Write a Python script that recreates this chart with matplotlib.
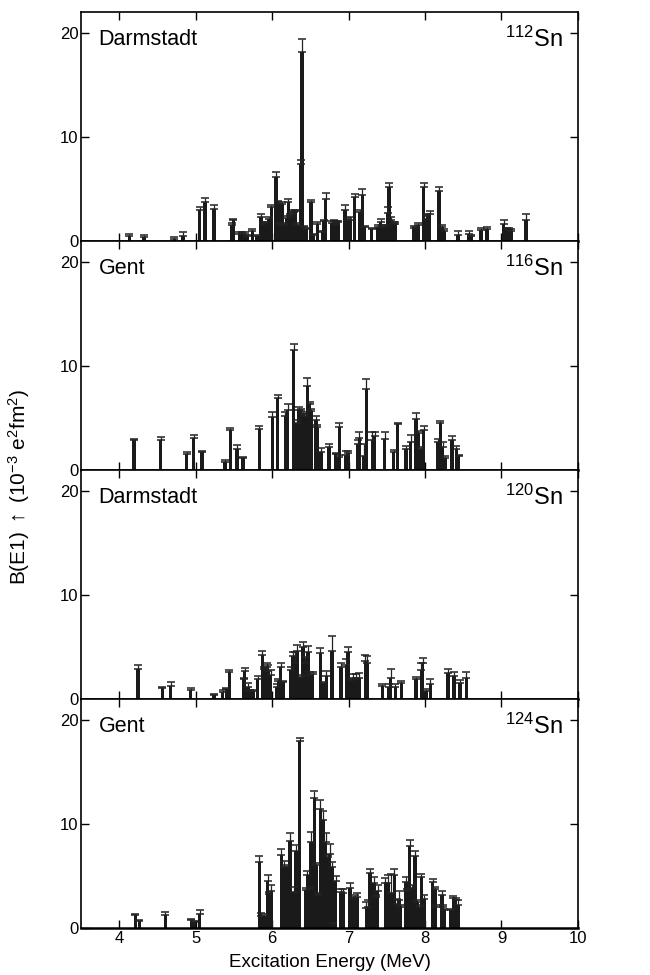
import matplotlib
matplotlib.use("Agg")
import matplotlib.pyplot as plt
import numpy as np

plt.rcParams['font.family'] = ['Liberation Sans', 'DejaVu Sans']
plt.rcParams['mathtext.fontset'] = 'custom'
plt.rcParams['mathtext.rm'] = 'Liberation Sans'
plt.rcParams['mathtext.it'] = 'Liberation Sans:italic'

# Sn-112, Darmstadt: energy (MeV), B(E1) (10^-3 e^2 fm^2), upper error
e112 = [4.13, 4.32, 4.72, 4.83, 5.05, 5.12, 5.24, 5.47, 5.49, 5.57, 5.61, 5.64, 5.67,
        5.74, 5.80, 5.85, 5.88, 5.91, 5.96, 5.99, 6.05, 6.08, 6.10, 6.13, 6.16, 6.19,
        6.21, 6.23, 6.26, 6.28, 6.30, 6.33, 6.37, 6.39, 6.41, 6.44, 6.51, 6.54, 6.59,
        6.66, 6.68, 6.70, 6.78, 6.81, 6.83, 6.86, 6.95, 6.99, 7.02, 7.08, 7.15, 7.18,
        7.21, 7.30, 7.38, 7.42, 7.44, 7.48, 7.51, 7.53, 7.56, 7.59, 7.61, 7.85, 7.88,
        7.91, 7.98, 8.01, 8.03, 8.06, 8.18, 8.22, 8.25, 8.43, 8.57, 8.60, 8.73, 8.81,
        9.03, 9.07, 9.10, 9.13, 9.32]
b112 = [0.5, 0.4, 0.2, 0.5, 3.0, 3.7, 3.1, 1.5, 2.0, 0.7, 0.7, 0.7, 0.5,
        0.9, 0.5, 2.3, 1.6, 1.7, 2.1, 3.2, 6.1, 3.6, 1.5, 3.5, 1.5, 2.2,
        3.7, 2.4, 2.6, 2.8, 2.9, 1.5, 7.4, 18.1, 1.3, 1.1, 3.7, 0.6, 1.6,
        0.8, 1.9, 4.0, 1.7, 1.9, 1.6, 1.8, 3.0, 2.0, 2.0, 4.2, 2.8, 4.4,
        1.3, 1.1, 1.3, 1.8, 1.3, 1.4, 2.7, 5.2, 2.0, 1.6, 1.6, 1.2, 1.2,
        1.5, 5.2, 2.1, 2.4, 2.6, 4.8, 1.3, 0.9, 0.6, 0.7, 0.5, 1.0, 1.1,
        1.6, 1.1, 1.0, 0.9, 2.0]
d112 = [0.2, 0.2, 0.2, 0.3, 0.2, 0.4, 0.3, 0.2, 0.1, 0.1, 0.1, 0.1, 0.1,
        0.2, 0.1, 0.3, 0.2, 0.1, 0.2, 0.2, 0.5, 0.2, 0.2, 0.2, 0.2, 0.2,
        0.3, 0.2, 0.2, 0.2, 0.1, 0.2, 0.4, 1.3, 0.1, 0.1, 0.2, 0.1, 0.2,
        0.1, 0.1, 0.6, 0.2, 0.1, 0.3, 0.1, 0.4, 0.2, 0.3, 0.3, 0.2, 0.6,
        0.1, 0.1, 0.2, 0.3, 0.2, 0.1, 0.5, 0.4, 0.3, 0.2, 0.2, 0.2, 0.1,
        0.2, 0.4, 0.4, 0.2, 0.3, 0.4, 0.2, 0.2, 0.3, 0.2, 0.1, 0.2, 0.2,
        0.4, 0.1, 0.2, 0.2, 0.6]

# Sn-116, Gent
e116 = [4.19, 4.54, 4.88, 4.97, 5.08, 5.38, 5.45, 5.54, 5.62, 5.83, 6.00, 6.07, 6.17,
        6.20, 6.28, 6.32, 6.35, 6.37, 6.40, 6.42, 6.46, 6.49, 6.51, 6.57, 6.59, 6.64,
        6.74, 6.83, 6.87, 6.88, 6.96, 6.99, 7.12, 7.14, 7.20, 7.23, 7.31, 7.34, 7.47,
        7.59, 7.64, 7.75, 7.81, 7.88, 7.91, 7.95, 7.98, 8.17, 8.20, 8.23, 8.26, 8.35,
        8.41, 8.44]
b116 = [2.9, 2.9, 1.5, 3.1, 1.7, 0.8, 3.8, 2.0, 1.1, 3.9, 5.1, 6.9, 5.2,
        5.8, 11.5, 4.5, 5.8, 5.7, 5.4, 5.2, 8.1, 6.3, 5.7, 4.8, 4.1, 1.7,
        2.2, 1.5, 1.2, 4.1, 1.4, 1.6, 2.5, 3.1, 1.3, 7.8, 2.9, 3.3, 3.0,
        1.7, 4.4, 2.0, 2.7, 4.9, 3.5, 2.0, 3.8, 2.7, 4.5, 2.2, 1.1, 2.9,
        2.0, 1.3]
d116 = [0.1, 0.3, 0.2, 0.3, 0.1, 0.2, 0.2, 0.4, 0.1, 0.3, 0.5, 0.3, 0.4,
        0.5, 0.6, 0.3, 0.2, 0.2, 0.2, 0.2, 0.7, 0.2, 0.2, 0.4, 0.2, 0.4,
        0.3, 0.1, 0.2, 0.4, 0.4, 0.2, 0.4, 0.5, 1.2, 0.9, 0.7, 0.3, 0.6,
        0.2, 0.1, 0.3, 0.7, 0.6, 0.2, 0.2, 0.4, 0.3, 0.2, 0.5, 0.2, 0.4,
        0.3, 0.1]

# Sn-120, Darmstadt
e120 = [4.24, 4.56, 4.67, 4.93, 5.24, 5.35, 5.40, 5.44, 5.63, 5.64, 5.68, 5.71, 5.75,
        5.81, 5.87, 5.89, 5.93, 5.95, 5.98, 6.06, 6.08, 6.11, 6.14, 6.24, 6.27, 6.30,
        6.33, 6.37, 6.40, 6.43, 6.47, 6.50, 6.53, 6.63, 6.67, 6.71, 6.78, 6.90, 6.97,
        6.99, 7.03, 7.06, 7.10, 7.14, 7.22, 7.24, 7.44, 7.53, 7.55, 7.61, 7.69, 7.88,
        7.95, 7.97, 8.01, 8.07, 8.30, 8.38, 8.46, 8.54]
b120 = [2.9, 1.1, 1.3, 0.9, 0.4, 0.7, 1.0, 2.6, 1.9, 2.7, 1.2, 0.8, 0.8,
        1.9, 4.2, 2.9, 3.1, 2.7, 2.3, 1.2, 1.7, 3.1, 1.6, 2.8, 4.1, 3.5,
        4.6, 2.1, 5.0, 3.5, 4.5, 2.3, 2.4, 4.4, 1.5, 2.2, 4.6, 3.1, 3.3,
        4.5, 1.8, 1.9, 2.0, 2.0, 3.7, 3.5, 1.3, 1.2, 2.0, 1.2, 1.5, 1.9,
        2.8, 3.5, 0.8, 1.4, 2.5, 2.2, 1.5, 2.0]
d120 = [0.4, 0.1, 0.3, 0.2, 0.1, 0.2, 0.1, 0.2, 0.1, 0.3, 0.3, 0.1, 0.1,
        0.3, 0.4, 0.2, 0.4, 0.6, 0.5, 0.2, 0.2, 0.4, 0.1, 0.3, 0.4, 1.0,
        0.6, 0.2, 0.5, 0.5, 0.6, 0.3, 0.2, 0.5, 0.1, 0.5, 1.5, 0.4, 0.5,
        0.5, 0.2, 0.5, 0.4, 0.5, 0.5, 0.6, 0.1, 0.2, 0.9, 0.2, 0.2, 0.2,
        0.7, 0.4, 0.2, 0.5, 0.4, 0.4, 0.3, 0.6]

# Sn-124, Gent
e124 = [4.21, 4.26, 4.60, 4.94, 4.98, 5.05, 5.83, 5.85, 5.89, 5.94, 5.96, 5.99, 6.12,
        6.16, 6.18, 6.23, 6.28, 6.31, 6.36, 6.44, 6.46, 6.49, 6.51, 6.55, 6.57, 6.60,
        6.63, 6.67, 6.70, 6.73, 6.75, 6.78, 6.80, 6.83, 6.90, 6.93, 7.02, 7.04, 7.08,
        7.11, 7.23, 7.25, 7.28, 7.33, 7.36, 7.38, 7.48, 7.52, 7.56, 7.60, 7.63, 7.66,
        7.68, 7.75, 7.77, 7.80, 7.83, 7.87, 7.90, 7.93, 7.95, 7.99, 8.10, 8.13, 8.14,
        8.22, 8.23, 8.25, 8.34, 8.37, 8.40, 8.43]
b124 = [1.3, 0.7, 1.3, 0.8, 0.6, 1.4, 6.4, 1.2, 1.2, 4.5, 3.3, 3.6, 7.0,
        5.9, 5.9, 8.4, 3.5, 7.4, 18.0, 3.7, 5.1, 3.8, 8.3, 12.5, 6.1, 3.2,
        11.4, 10.4, 8.3, 6.8, 7.1, 5.9, 0.4, 4.5, 3.5, 3.4, 3.9, 2.8, 2.9,
        3.0, 1.9, 2.0, 5.3, 4.3, 3.0, 3.6, 4.3, 4.3, 3.4, 5.1, 2.3, 2.7,
        2.0, 4.4, 3.6, 7.9, 3.9, 6.9, 2.5, 2.0, 4.9, 2.8, 4.4, 3.8, 2.0,
        3.2, 2.0, 1.7, 1.7, 2.9, 2.7, 2.2]
d124 = [0.1, 0.1, 0.3, 0.1, 0.1, 0.3, 0.5, 0.3, 0.2, 0.6, 0.2, 0.5, 0.6,
        0.6, 0.2, 0.7, 0.5, 0.6, 0.3, 0.2, 0.4, 0.2, 0.9, 0.7, 0.2, 0.2,
        0.9, 0.9, 0.8, 0.2, 1.0, 0.5, 0.1, 0.5, 0.3, 0.4, 0.4, 0.2, 0.3,
        0.4, 0.6, 0.7, 0.4, 0.6, 0.2, 0.5, 0.5, 0.8, 1.8, 0.6, 0.5, 0.9,
        0.2, 0.5, 0.2, 0.6, 0.2, 0.5, 0.2, 0.2, 0.3, 0.4, 0.3, 0.2, 0.2,
        0.4, 0.2, 0.1, 0.1, 0.2, 0.2, 0.5]

labs = ["Darmstadt", "Gent", "Darmstadt", "Gent"]
isotopes = ["112", "116", "120", "124"]
xticks = [4, 5, 6, 7, 8, 9, 10]
yticks = [0, 10, 20]

panels = [(e112, b112, d112), (e116, b116, d116), (e120, b120, d120), (e124, b124, d124)]

fig, axes = plt.subplots(4, 1, figsize=(6.5, 9.75), dpi=100, sharex=True)
fig.subplots_adjust(left=0.125, right=0.889, top=0.988, bottom=0.048, hspace=0)

for ax, (e, b, d), lab, iso in zip(axes, panels, labs, isotopes):
    e = np.array(e)
    b = np.array(b)
    d = np.array(d)
    ax.bar(e, b, width=0.045, color='#1a1a1a', edgecolor='none', zorder=2)
    ax.errorbar(e, b, yerr=[np.zeros_like(d), d], fmt='none', ecolor='#222222',
                elinewidth=0.9, capsize=3, capthick=1.1, zorder=3)
    ax.set_xlim(3.5, 10)
    ax.set_ylim(0, 22)
    ax.set_yticks(yticks)
    ax.set_xticks(xticks)
    ax.tick_params(direction='in', length=6, width=1, top=True, right=True,
                   labelsize=12, pad=2)
    for s in ax.spines.values():
        s.set_linewidth(1.2)
    ax.spines['bottom'].set_linewidth(1.8)
    ax.text(0.035, 0.925, lab, transform=ax.transAxes, ha='left', va='top', fontsize=15.5)
    ax.text(0.97, 0.935, r"$^{\mathrm{%s}}$Sn" % iso, transform=ax.transAxes, ha='right',
            va='top', fontsize=17)

axes[-1].set_xlabel("Excitation Energy (MeV)", fontsize=13.5, labelpad=6)
fig.text(0.03, 0.5, r"B(E1) $\uparrow$ (10$^{-3}$ e$^{2}$fm$^{2}$)", rotation=90,
         ha='center', va='center', fontsize=15)

fig.savefig("out.png", dpi=100)
